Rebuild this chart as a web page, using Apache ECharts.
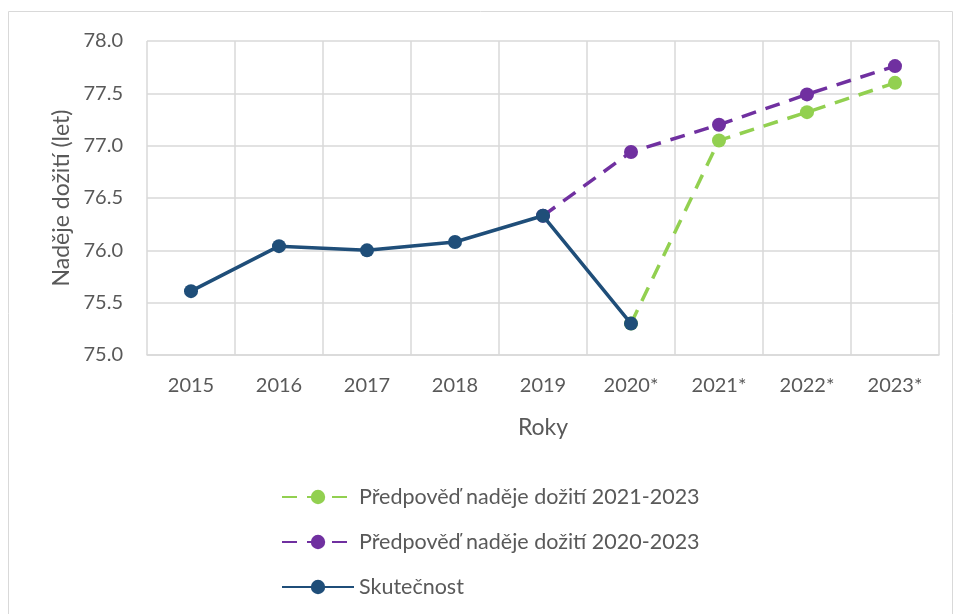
<!DOCTYPE html>
<html><head><meta charset="utf-8">
<script src="https://cdn.jsdelivr.net/npm/echarts@6/dist/echarts.min.js"></script>
<style>html,body{margin:0;padding:0;background:#fff}#c{width:955px;height:614px}</style>
</head><body><div id="c"></div>
<script>
const categories = ['2015','2016','2017','2018','2019','2020*','2021*','2022*','2023*'];
const actual = [75.61, 76.04, 76.00, 76.08, 76.33, 75.30, null, null, null];
const forecast2020 = [null, null, null, null, 76.33, 76.94, 77.20, 77.49, 77.76];
const forecast2021 = [null, null, null, null, null, 75.30, 77.05, 77.32, 77.60];
const yTicks = { min: 75, max: 78, interval: 0.5 };

const FONT = 'Lato, "Open Sans", sans-serif';
const TXT = '#595959';
const chart = echarts.init(document.getElementById('c'));
chart.setOption({
  animation: false,
  textStyle: { fontFamily: FONT },
  graphic: [{ type: 'rect', shape: { x: 8.5, y: 11.5, width: 944, height: 620 }, style: { fill: 'none', stroke: '#D9D9D9', lineWidth: 1 }, silent: true }],
  grid: { left: 147, right: 16, top: 41, bottom: 259 },
  legend: {
    orient: 'vertical', left: 276, top: 481, itemWidth: 72, itemHeight: 18, itemGap: 23,
    textStyle: { fontFamily: FONT, fontSize: 21.5, color: TXT },
    data: ['Předpověď naděje dožití 2021-2023', 'Předpověď naděje dožití 2020-2023', 'Skutečnost']
  },
  xAxis: {
    type: 'category', data: categories, boundaryGap: true,
    name: 'Roky', nameLocation: 'middle', nameGap: 61,
    nameTextStyle: { fontFamily: FONT, fontSize: 23, color: TXT },
    axisLine: { show: true, lineStyle: { color: '#D9D9D9', width: 1.5 } },
    axisTick: { show: false },
    axisLabel: { fontFamily: FONT, fontSize: 20, color: TXT, margin: 21 },
    splitLine: { show: true, lineStyle: { color: '#D9D9D9', width: 1.5 } }
  },
  yAxis: {
    type: 'value', min: yTicks.min, max: yTicks.max, interval: yTicks.interval,
    name: 'Naděje dožití (let)', nameLocation: 'middle', nameGap: 70, nameRotate: 90,
    nameTextStyle: { fontFamily: FONT, fontSize: 23, color: TXT },
    axisLine: { show: false }, axisTick: { show: false },
    axisLabel: { fontFamily: FONT, fontSize: 20, color: TXT, margin: 24, formatter: v => v.toFixed(1) },
    splitLine: { show: true, lineStyle: { color: '#D9D9D9', width: 1.5 } }
  },
  series: [
    { name: 'Předpověď naděje dožití 2021-2023', type: 'line', data: forecast2021, symbol: 'circle', symbolSize: 14,
      itemStyle: { color: '#92D050' }, lineStyle: { color: '#92D050', width: 3.5, type: [15, 10] }, z: 2 },
    { name: 'Předpověď naděje dožití 2020-2023', type: 'line', data: forecast2020, symbol: 'circle', symbolSize: 14,
      itemStyle: { color: '#7030A0' }, lineStyle: { color: '#7030A0', width: 3.5, type: [15, 10] }, z: 3 },
    { name: 'Skutečnost', type: 'line', data: actual, symbol: 'circle', symbolSize: 14,
      itemStyle: { color: '#1F4E79' }, lineStyle: { color: '#1F4E79', width: 3.5 }, z: 4 }
  ]
});
</script></body></html>
